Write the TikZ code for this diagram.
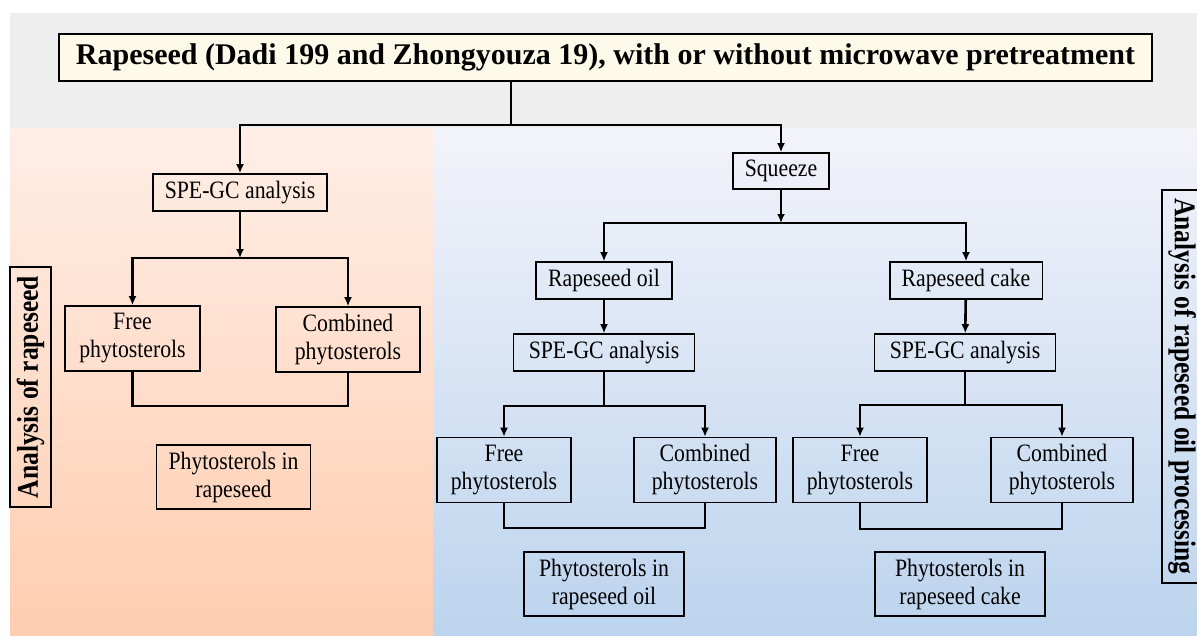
\documentclass[tikz,border=0pt]{standalone}
\usepackage{fontspec}
\setmainfont{Liberation Serif}
\newfontfamily\boxfont{Liberation Serif}[FakeStretch=0.87]
\newfontfamily\labelfont{Liberation Serif}[FakeStretch=0.85]
\usetikzlibrary{arrows.meta}

\definecolor{topgray}{RGB}{238,238,238}
\definecolor{peachtop}{RGB}{255,238,230}
\definecolor{peachbot}{RGB}{255,205,176}
\definecolor{bluetop}{RGB}{243,243,250}
\definecolor{bluebot}{RGB}{188,212,238}
\definecolor{cream}{RGB}{254,250,234}

\tikzset{
  box/.style={draw,line width=1.6pt,inner xsep=12pt,inner ysep=0pt,minimum height=37pt,
    font=\boxfont\fontsize{25}{28}\selectfont,align=center},
  twoline/.style={box,minimum height=65pt},
  sidelabel/.style={draw,line width=2pt,minimum height=41pt,inner sep=0pt,
    font=\labelfont\fontsize{30}{34}\selectfont\bfseries},
  conn/.style={line width=2.6pt},
  arr/.style={conn,-{Latex[length=9pt,width=8pt]}},
}

\begin{document}
\begin{tikzpicture}[x=1pt,y=-1pt]
\useasboundingbox (0,0) rectangle (1197,635);
% panels
\fill[topgray] (10,13) rectangle (1197,128);
\shade[top color=peachtop,bottom color=peachbot] (10,128) rectangle (433,635);
\shade[top color=bluetop,bottom color=bluebot] (433,128) rectangle (1197,635);

% title
\node[draw,line width=1.6pt,fill=cream,minimum width=1093pt,minimum height=47pt,
  font=\fontsize{30}{34}\selectfont\bfseries] (title) at (605.5,57.5)
  {Rapeseed (Dadi 199 and Zhongyouza 19), with or without microwave pretreatment};

% side labels
\node[sidelabel,rotate=90,minimum width=240pt] (labseed) at (30.5,387) {Analysis of rapeseed};
\node[sidelabel,rotate=-90,minimum width=393pt] (laboil) at (1182,386.5) {Analysis of rapeseed oil processing};

% rapeseed branch
\node[box] (spe1) at (240,192.5) {SPE-GC analysis};
\node[twoline,minimum width=135pt] (free1) at (132.5,338.5) {Free\\phytosterols};
\node[twoline,minimum width=144pt] (comb1) at (348,339.5) {Combined\\phytosterols};
\node[twoline,minimum height=64pt] (res1) at (233.5,477) {Phytosterols in\\rapeseed};

% oil processing branch
\node[box,minimum height=36pt] (squeeze) at (781,171) {Squeeze};
\node[box] (oil) at (604,280.5) {Rapeseed oil};
\node[box] (cake) at (966,280.5) {Rapeseed cake};
\node[box,minimum width=181pt] (spe2) at (604,352.5) {SPE-GC analysis};
\node[box,minimum width=181pt] (spe3) at (965,352.5) {SPE-GC analysis};
\node[twoline,minimum width=134pt] (free2) at (504,470) {Free\\phytosterols};
\node[twoline,minimum width=142pt] (comb2) at (705,470) {Combined\\phytosterols};
\node[twoline,minimum width=134pt] (free3) at (860,470) {Free\\phytosterols};
\node[twoline,minimum width=142pt] (comb3) at (1062,470) {Combined\\phytosterols};
\node[twoline,minimum height=64pt,minimum width=160pt] (res2) at (604,584) {Phytosterols in\\rapeseed oil};
\node[twoline,minimum height=64pt,minimum width=170pt] (res3) at (960,584) {Phytosterols in\\rapeseed cake};

% branch points
\coordinate (split) at (511,125);
\coordinate (b1) at (240,258);
\coordinate (j1) at (240,406);
\coordinate (b2) at (781,223);
\coordinate (b3) at (604,406);
\coordinate (b4) at (965,405);
\coordinate (j2) at (604,528);
\coordinate (j3) at (960,529);

% connectors
\draw[conn] (title.south -| split) -- (split);
\draw[arr] (split) -| (spe1);
\draw[arr] (split) -| (squeeze);

\draw[arr] (spe1) -- (b1);
\draw[arr] (b1) -| (free1);
\draw[arr] (b1) -| (comb1);
\draw[conn] (free1) |- (j1) -| (comb1);

\draw[arr] (squeeze) -- (b2);
\draw[arr] (b2) -| (oil);
\draw[arr] (b2) -| (cake);
\draw[arr] (oil) -- (spe2);
\draw[arr] (cake) -- (spe3);

\draw[conn] (spe2) -- (b3);
\draw[arr] (b3) -| (free2);
\draw[arr] (b3) -| (comb2);
\draw[conn] (free2) |- (j2) -| (comb2);

\draw[conn] (spe3) -- (b4);
\draw[arr] (b4) -| (free3);
\draw[arr] (b4) -| (comb3);
\draw[conn] (free3) |- (j3) -| (comb3);
\end{tikzpicture}
\end{document}
